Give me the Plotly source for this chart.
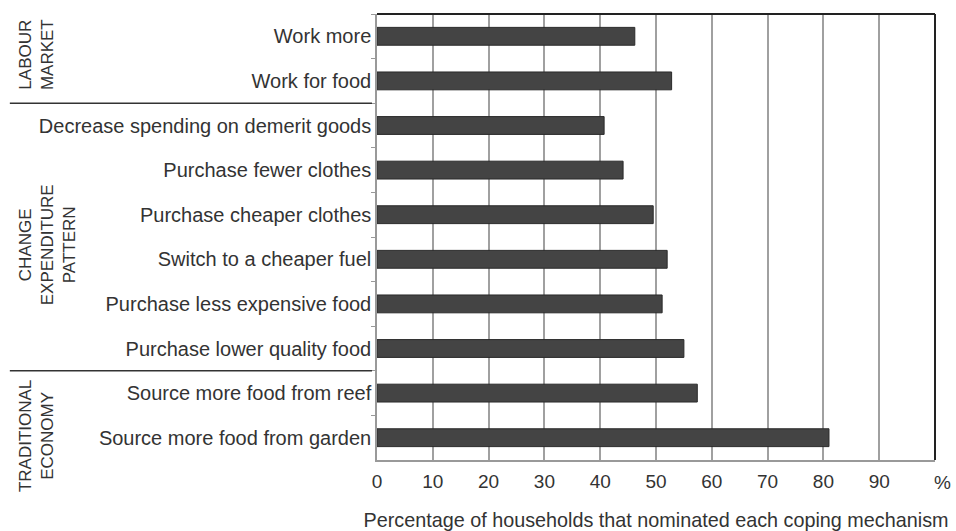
import plotly.graph_objects as go

categories = [
    "Work more",
    "Work for food",
    "Decrease spending on demerit goods",
    "Purchase fewer clothes",
    "Purchase cheaper clothes",
    "Switch to a cheaper fuel",
    "Purchase less expensive food",
    "Purchase lower quality food",
    "Source more food from reef",
    "Source more food from garden",
]
values = [46.2, 52.8, 40.7, 44.1, 49.5, 52.0, 51.1, 55.0, 57.4, 81.0]
x_tickvals = [0, 10, 20, 30, 40, 50, 60, 70, 80, 90, 100]
x_ticktext = ["0", "10", "20", "30", "40", "50", "60", "70", "80", "90", ""]
group_labels = ["LABOUR<br>MARKET", "CHANGE<br>EXPENDITURE<br>PATTERN", "TRADITIONAL<br>ECONOMY"]
group_centers = [0.42, 4.68, 8.96]
group_separators = [1.5, 7.5]

FONT = "Liberation Sans, Arial, sans-serif"

fig = go.Figure()
fig.add_trace(go.Bar(
    y=categories, x=values, orientation="h",
    marker=dict(color="#444444", line=dict(color="#2a2a2a", width=1)),
    width=0.4,
))

for s in group_separators:
    fig.add_shape(type="line", xref="paper", yref="y", x0=-0.658, x1=-0.009, y0=s, y1=s,
                  line=dict(color="#333333", width=1.5))

for lbl, c, xp in zip(group_labels, group_centers, [-0.611, -0.591, -0.609]):
    fig.add_annotation(text=lbl, xref="paper", yref="y", x=xp, y=c, showarrow=False,
                       textangle=-90, font=dict(size=17, color="#333333", family=FONT),
                       align="center", xanchor="center", yanchor="middle")

# percent unit label after the last tick
fig.add_annotation(text="%", xref="paper", yref="paper", x=1, y=0, xshift=7, yshift=-22,
                   showarrow=False, xanchor="center", yanchor="middle",
                   font=dict(size=19, color="#333333", family=FONT))

fig.update_layout(
    width=956, height=531,
    margin=dict(l=377, r=21, t=14, b=71),
    paper_bgcolor="white", plot_bgcolor="white",
    showlegend=False,
    bargap=0.6,
    font=dict(family=FONT, size=20, color="#333333"),
    xaxis=dict(
        range=[0, 100], tickvals=x_tickvals, ticktext=x_ticktext,
        showgrid=True, gridcolor="#a0a0a0", gridwidth=1.5,
        showline=True, linecolor="#999999", linewidth=1.5, mirror=False,
        zeroline=False, ticks="", ticklabelstandoff=3,
        tickfont=dict(size=19, color="#333333"),
        title=dict(text="Percentage of households that nominated each coping mechanism",
                   font=dict(size=19.8, color="#333333"), standoff=24),
        automargin=False,
    ),
    yaxis=dict(
        categoryorder="array", categoryarray=categories,
        range=[9.5, -0.5], autorange=False,
        showline=True, linecolor="#999999", linewidth=1.5,
        ticks="outside", tickson="boundaries", ticklen=4, tickcolor="#999999",
        showgrid=False, tickfont=dict(size=20, color="#333333"),
        automargin=False,
    ),
)

# top and right frame
fig.add_shape(type="line", xref="paper", yref="paper", x0=0, x1=1, y0=1, y1=1,
              line=dict(color="#222222", width=2))
fig.add_shape(type="line", xref="paper", yref="paper", x0=1, x1=1, y0=0, y1=1,
              line=dict(color="#222222", width=2))

fig.write_html(
    "out.html",
    config={"displayModeBar": False},
    post_script=(
        "document.body.style.margin='0';"
        "document.body.style.overflow='hidden';"
        "document.documentElement.style.overflow='hidden';"
    ),
)
